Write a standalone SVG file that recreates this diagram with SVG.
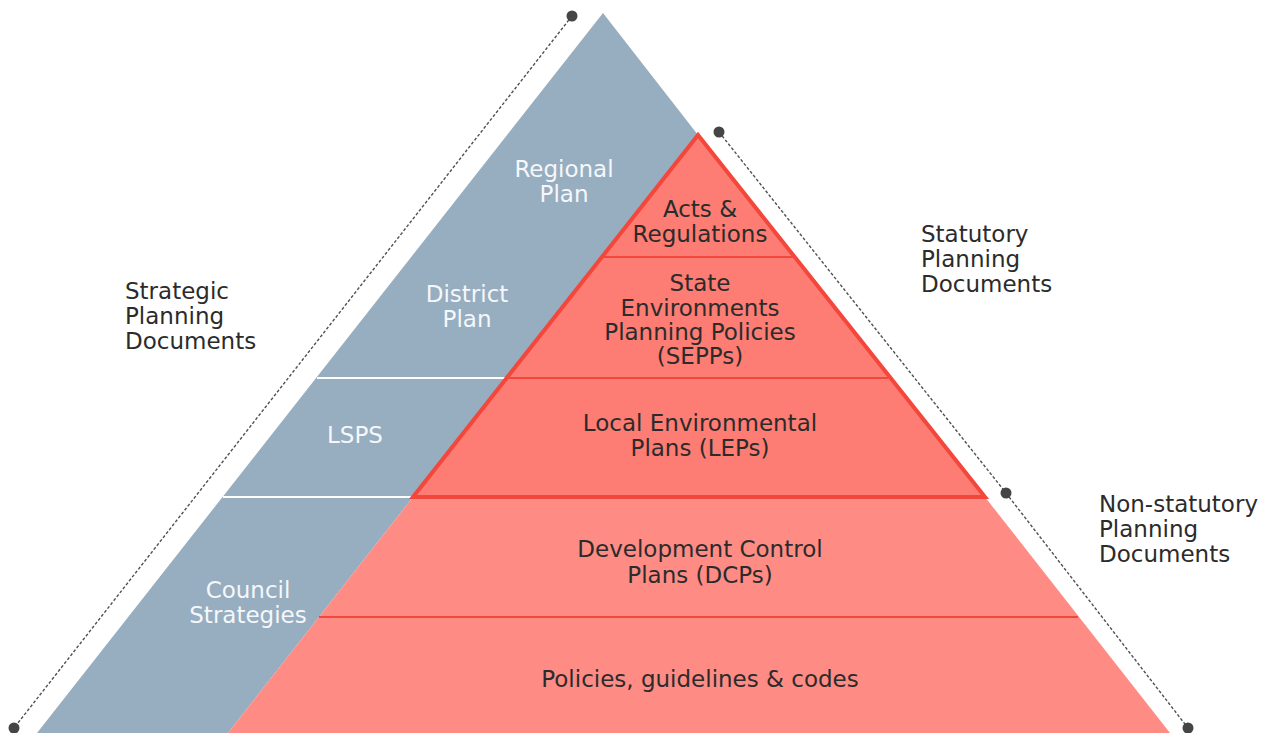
<svg xmlns="http://www.w3.org/2000/svg" width="1283" height="733" viewBox="0 0 1283 733">
<style>
.t{font-family:"DejaVu Sans","Liberation Sans",sans-serif;font-size:23px;}
.dk{fill:#2b2b2b;}
.wh{fill:#f5f7fa;}
.c{text-anchor:middle;}
.dot{fill:#454545;}
.dash{stroke:#505050;stroke-width:1.4;stroke-dasharray:3 2;fill:none;}
.wl{stroke:#ffffff;stroke-width:2;}
.rl{stroke:#f4473c;stroke-width:2;}
</style>
<rect width="1283" height="733" fill="#ffffff"/>
<g id="strategic-band">
<polygon points="603,13 37,733 228,733 413,497 698,135" fill="#97adc0"/>
<line class="wl" x1="317" y1="378" x2="508" y2="378"/>
<line class="wl" x1="223" y1="497" x2="413" y2="497"/>
<text class="t wh c" x="564" y="177">Regional</text>
<text class="t wh c" x="564" y="202">Plan</text>
<text class="t wh c" x="467" y="302">District</text>
<text class="t wh c" x="467" y="327">Plan</text>
<text class="t wh c" x="355" y="443">LSPS</text>
<text class="t wh c" x="248" y="598">Council</text>
<text class="t wh c" x="248" y="623">Strategies</text>
</g>
<g id="non-statutory">
<polygon points="413,497 985,497 1170,733 228,733" fill="#fe8c85"/>
<line class="rl" x1="319" y1="617" x2="1078" y2="617"/>
<text class="t dk c" x="700" y="557">Development Control</text>
<text class="t dk c" x="700" y="583">Plans (DCPs)</text>
<text class="t dk c" x="700" y="687">Policies, guidelines &amp; codes</text>
</g>
<g id="statutory">
<polygon points="698,135 413,497 985,497" fill="#fd7c73" stroke="#f4473c" stroke-width="4" stroke-linejoin="miter"/>
<line class="rl" x1="604" y1="257" x2="793" y2="257"/>
<line class="rl" x1="509" y1="378" x2="888" y2="378"/>
<text class="t dk c" x="700" y="217">Acts &amp;</text>
<text class="t dk c" x="700" y="242">Regulations</text>
<text class="t dk c" x="700" y="291">State</text>
<text class="t dk c" x="700" y="316">Environments</text>
<text class="t dk c" x="700" y="340">Planning Policies</text>
<text class="t dk c" x="700" y="364">(SEPPs)</text>
<text class="t dk c" x="700" y="431">Local Environmental</text>
<text class="t dk c" x="700" y="456">Plans (LEPs)</text>
</g>
<g id="connectors">
<line class="dash" x1="572" y1="16" x2="14" y2="728"/>
<line class="dash" x1="719" y1="132" x2="1006" y2="493"/>
<line class="dash" x1="1006" y1="493" x2="1188" y2="728"/>
<circle class="dot" cx="572" cy="16" r="5.5"/>
<circle class="dot" cx="14" cy="728" r="5.5"/>
<circle class="dot" cx="719" cy="132" r="5.5"/>
<circle class="dot" cx="1006" cy="493" r="5.5"/>
<circle class="dot" cx="1188" cy="728" r="5.5"/>
</g>
<g id="labels">
<text class="t dk" x="125" y="299">Strategic</text>
<text class="t dk" x="125" y="324">Planning</text>
<text class="t dk" x="125" y="349">Documents</text>
<text class="t dk" x="921" y="242">Statutory</text>
<text class="t dk" x="921" y="267">Planning</text>
<text class="t dk" x="921" y="292">Documents</text>
<text class="t dk" x="1099" y="512">Non-statutory</text>
<text class="t dk" x="1099" y="537">Planning</text>
<text class="t dk" x="1099" y="562">Documents</text>
</g>
</svg>
